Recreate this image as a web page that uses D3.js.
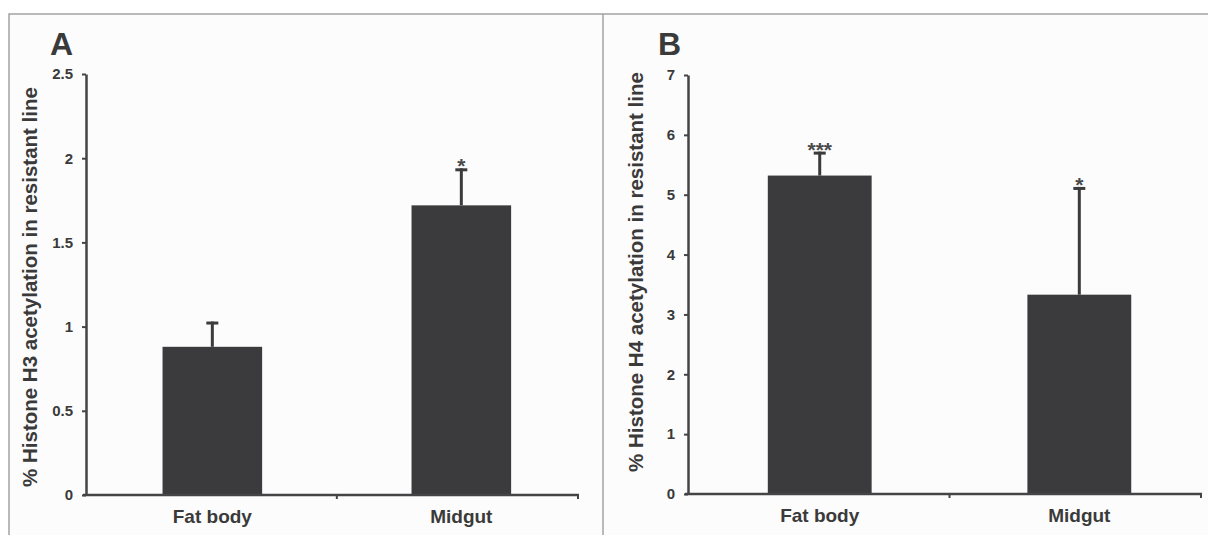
<!DOCTYPE html>
<html>
<head>
<meta charset="utf-8">
<script src="https://cdn.jsdelivr.net/npm/d3@7"></script>
<style>
  body { margin: 0; background: #ffffff; }
  svg text { font-family: "Liberation Sans", Arial, sans-serif; font-weight: bold; fill: #3a3a3a; }
</style>
</head>
<body>
<div id="chart"></div>
<script>
// Data
const categories = ['Fat body', 'Midgut'];

const h3Values = [0.88, 1.72];
const h3Errors = [0.15, 0.22];
const h3Stars = ['', '*'];
const h3Ticks = [0, 0.5, 1, 1.5, 2, 2.5];

const h4Values = [5.32, 3.33];
const h4Errors = [0.4, 1.8];
const h4Stars = ['***', '*'];
const h4Ticks = [0, 1, 2, 3, 4, 5, 6, 7];

const W = 1208, H = 535;
const barColor = '#3b3b3d';
const axisColor = '#444446';

const svg = d3.select('#chart')
    .append('svg')
    .attr('width', W)
    .attr('height', H);

// Outer frame of the figure
svg.append('rect')
    .attr('x', 9).attr('y', 14)
    .attr('width', W + 10).attr('height', H + 10)
    .attr('fill', '#fcfcfc')
    .attr('stroke', '#a3a3a3')
    .attr('stroke-width', 1.5);

svg.append('line')
    .attr('x1', 603).attr('x2', 603)
    .attr('y1', 14).attr('y2', H)
    .attr('stroke', '#a3a3a3')
    .attr('stroke-width', 1.5);

function drawPanel(opts) {
    const g = svg.append('g');

    const y = d3.scaleLinear()
        .domain([0, d3.max(opts.ticks)])
        .range([opts.bottom, opts.top]);

    const x = d3.scaleBand()
        .domain(categories)
        .range([opts.left, opts.right])
        .paddingInner(0.6)
        .paddingOuter(0.29)
        .align(0.53);

    const rows = categories.map((c, i) => ({
        cat: c, value: opts.values[i], err: opts.errors[i], star: opts.stars[i]
    }));

    // bars
    g.selectAll('.bar')
        .data(rows)
        .enter()
        .append('rect')
        .attr('class', 'bar')
        .attr('x', d => x(d.cat))
        .attr('y', d => y(d.value))
        .attr('width', x.bandwidth())
        .attr('height', d => y(0) - y(d.value))
        .attr('fill', barColor);

    // error bars (upper only)
    const cx = d => x(d.cat) + x.bandwidth() / 2;
    g.selectAll('.err')
        .data(rows)
        .enter()
        .append('line')
        .attr('x1', cx).attr('x2', cx)
        .attr('y1', d => y(d.value))
        .attr('y2', d => y(d.value + d.err))
        .attr('stroke', barColor)
        .attr('stroke-width', 3);

    g.selectAll('.cap')
        .data(rows)
        .enter()
        .append('line')
        .attr('x1', d => cx(d) - 6).attr('x2', d => cx(d) + 6)
        .attr('y1', d => y(d.value + d.err) + 1.5)
        .attr('y2', d => y(d.value + d.err) + 1.5)
        .attr('stroke', barColor)
        .attr('stroke-width', 3);

    // significance stars
    g.selectAll('.star')
        .data(rows.filter(d => d.star))
        .enter()
        .append('text')
        .attr('x', cx)
        .attr('y', d => y(d.value + d.err) + 5)
        .attr('text-anchor', 'middle')
        .style('font-size', '21px')
        .style('fill', '#4a4a4a')
        .text(d => d.star);

    // y axis
    const yAxis = g.append('g')
        .attr('transform', `translate(${opts.left},0)`)
        .call(d3.axisLeft(y).tickValues(opts.ticks).tickSize(4).tickPadding(9).tickSizeOuter(0)
            .tickFormat(d => String(d)));
    yAxis.select('.domain').attr('stroke', axisColor).attr('stroke-width', 2.5);
    yAxis.selectAll('.tick line').attr('stroke', axisColor).attr('stroke-width', 2);
    yAxis.selectAll('.tick text').style('font-size', '15px').attr('fill', '#3a3a3a');

    // x axis line with ticks between categories
    g.append('line')
        .attr('x1', opts.left - 3).attr('x2', opts.right)
        .attr('y1', y(0)).attr('y2', y(0))
        .attr('stroke', axisColor)
        .attr('stroke-width', 2.5);

    const bounds = categories.map(c => x(c) + x.bandwidth() + (x.step() - x.bandwidth()) / 2);
    bounds[bounds.length - 1] = opts.right - 1;
    g.selectAll('.xtick')
        .data(bounds)
        .enter()
        .append('line')
        .attr('x1', d => d).attr('x2', d => d)
        .attr('y1', y(0)).attr('y2', y(0) + 4)
        .attr('stroke', axisColor)
        .attr('stroke-width', 2);

    g.selectAll('.xlabel')
        .data(categories)
        .enter()
        .append('text')
        .attr('x', d => x(d) + x.bandwidth() / 2)
        .attr('y', y(0) + 28)
        .attr('text-anchor', 'middle')
        .style('font-size', '19px')
        .text(d => d);

    // y axis title
    g.append('text')
        .attr('transform', `translate(${opts.titleX},${opts.titleY}) rotate(-90)`)
        .attr('text-anchor', 'middle')
        .style('font-size', '20.5px')
        .text(opts.title);

    // panel letter
    g.append('text')
        .attr('x', opts.letterX)
        .attr('y', 55)
        .style('font-size', '32px')
        .text(opts.letter);
}

drawPanel({
    values: h3Values, errors: h3Errors, stars: h3Stars, ticks: h3Ticks,
    left: 86, right: 579, top: 74, bottom: 495,
    title: '% Histone H3 acetylation in resistant line', titleX: 37, titleY: 287,
    letter: 'A', letterX: 50
});

drawPanel({
    values: h4Values, errors: h4Errors, stars: h4Stars, ticks: h4Ticks,
    left: 688, right: 1202, top: 75, bottom: 494,
    title: '% Histone H4 acetylation in resistant line', titleX: 643, titleY: 272,
    letter: 'B', letterX: 658
});
</script>
</body>
</html>
